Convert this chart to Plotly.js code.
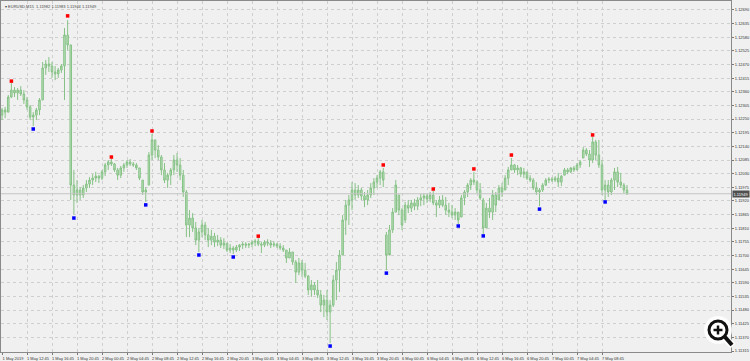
<!DOCTYPE html>
<html><head><meta charset="utf-8">
<script src="https://cdn.plot.ly/plotly-3.0.1.min.js"></script>
<style>html,body{margin:0;padding:0;background:#f0f0f0;}#chart{width:750px;height:361px;}</style>
</head><body><div id="chart"></div>
<script>
const symbolTitle = "EURUSD,M15  1.11982 1.11983 1.11944 1.11949";
const lastPrice = 1.11949;
const xLabels = ["1 May 2019","1 May 12:45","1 May 16:45","1 May 20:45","2 May 00:45","2 May 04:45","2 May 08:45","2 May 12:45","2 May 16:45","2 May 20:45","3 May 00:45","3 May 04:45","3 May 08:45","3 May 12:45","3 May 16:45","3 May 20:45","6 May 00:45","6 May 04:45","6 May 08:45","6 May 12:45","6 May 16:45","6 May 20:45","7 May 00:45","7 May 04:45","7 May 08:45"];
const barsPerLabel = 8;

const open = [
1.12266,1.12287,1.12278,1.12339,1.12367,1.12355,1.12367,1.12351,1.12327,1.12299,
1.12258,1.12266,1.12287,1.12327,1.12456,1.12472,1.12464,1.12440,1.12432,1.12448,
1.12464,1.12589,1.12549,1.11984,1.11944,1.11964,1.11944,1.11972,1.11988,1.12004,
1.12012,1.12020,1.12012,1.12037,1.12065,1.12077,1.12069,1.12045,1.12024,1.12053,
1.12065,1.12077,1.12069,1.12065,1.12053,1.12004,1.11956,1.11984,1.12105,1.12166,
1.12125,1.12097,1.12045,1.12004,1.12024,1.12045,1.12085,1.12065,1.12024,1.11956,
1.11823,1.11851,1.11811,1.11762,1.11795,1.11823,1.11783,1.11762,1.11778,1.11754,
1.11762,1.11742,1.11750,1.11722,1.11730,1.11722,1.11734,1.11742,1.11746,1.11742,
1.11746,1.11754,1.11758,1.11746,1.11742,1.11754,1.11750,1.11742,1.11746,1.11738,
1.11730,1.11722,1.11690,1.11714,1.11674,1.11633,1.11670,1.11641,1.11617,1.11561,
1.11581,1.11561,1.11541,1.11500,1.11520,1.11472,1.11500,1.11601,1.11641,1.11702,
1.11843,1.11903,1.11924,1.11964,1.11944,1.11964,1.11940,1.11924,1.11944,1.11972,
1.11996,1.12012,1.12037,1.11783,1.11702,1.11803,1.11875,1.11944,1.11883,1.11843,
1.11903,1.11891,1.11912,1.11899,1.11924,1.11932,1.11940,1.11928,1.11944,1.11912,
1.11903,1.11924,1.11903,1.11883,1.11875,1.11863,1.11875,1.11855,1.11932,1.11956,
1.11984,1.12004,1.11996,1.11964,1.11924,1.11811,1.11891,1.11875,1.11944,1.11924,
1.11972,1.11964,1.12012,1.12045,1.12065,1.12045,1.12053,1.12028,1.12037,1.12012,
1.12004,1.11972,1.11956,1.11964,1.11984,1.12004,1.12008,1.12004,1.12012,1.11996,
1.12024,1.12045,1.12037,1.12053,1.12045,1.12065,1.12093,1.12125,1.12109,1.12085,
1.12158,1.12105,1.12065,1.11964,1.11984,1.11956,1.12004,1.12037,1.11996,1.11984,
1.11964];
const high = [
1.12295,1.12299,1.12347,1.12395,1.12379,1.12375,1.12383,1.12367,1.12339,1.12307,
1.12278,1.12295,1.12335,1.12480,1.12488,1.12500,1.12480,1.12464,1.12456,1.12472,
1.12617,1.12649,1.12549,1.12045,1.12004,1.11976,1.11984,1.12004,1.12016,1.12028,
1.12037,1.12024,1.12045,1.12073,1.12085,1.12089,1.12073,1.12053,1.12061,1.12073,
1.12085,1.12089,1.12077,1.12073,1.12053,1.12004,1.11976,1.12117,1.12190,1.12166,
1.12145,1.12105,1.12073,1.12033,1.12053,1.12105,1.12113,1.12093,1.12045,1.11964,
1.11883,1.11871,1.11835,1.11811,1.11843,1.11835,1.11811,1.11803,1.11791,1.11783,
1.11774,1.11770,1.11750,1.11746,1.11738,1.11742,1.11746,1.11754,1.11754,1.11750,
1.11762,1.11766,1.11770,1.11754,1.11762,1.11766,1.11762,1.11758,1.11750,1.11750,
1.11742,1.11722,1.11730,1.11714,1.11682,1.11690,1.11682,1.11670,1.11621,1.11601,
1.11593,1.11601,1.11561,1.11541,1.11561,1.11520,1.11621,1.11674,1.11722,1.11863,
1.11924,1.11944,1.11996,1.11992,1.11984,1.11972,1.11956,1.11964,1.11992,1.12012,
1.12024,1.12045,1.12053,1.11795,1.11823,1.11891,1.12004,1.11944,1.11891,1.11916,
1.11924,1.11924,1.11928,1.11936,1.11948,1.11952,1.11948,1.11956,1.11960,1.11924,
1.11940,1.11944,1.11936,1.11912,1.11903,1.11891,1.11875,1.11944,1.11964,1.11992,
1.12012,1.12037,1.12004,1.11992,1.11932,1.11912,1.11932,1.11964,1.11956,1.11984,
1.11992,1.12024,1.12057,1.12093,1.12069,1.12065,1.12057,1.12053,1.12037,1.12024,
1.12012,1.11996,1.11972,1.11992,1.12012,1.12016,1.12016,1.12020,1.12033,1.12024,
1.12053,1.12053,1.12057,1.12061,1.12073,1.12085,1.12137,1.12133,1.12125,1.12178,
1.12166,1.12166,1.12085,1.12004,1.12004,1.12012,1.12053,1.12057,1.12033,1.11992,
1.11984];
const low = [
1.12246,1.12254,1.12278,1.12335,1.12339,1.12327,1.12343,1.12311,1.12287,1.12246,
1.12222,1.12246,1.12266,1.12327,1.12428,1.12440,1.12416,1.12407,1.12416,1.12436,
1.12327,1.12528,1.11924,1.11867,1.11912,1.11924,1.11932,1.11956,1.11972,1.11984,
1.11996,1.11992,1.12004,1.12020,1.12045,1.12061,1.12037,1.12004,1.12012,1.12037,
1.12053,1.12061,1.12057,1.12045,1.12004,1.11944,1.11916,1.11984,1.12085,1.12093,
1.12085,1.12024,1.11992,1.11972,1.11984,1.12024,1.12037,1.12004,1.11936,1.11774,
1.11774,1.11795,1.11742,1.11714,1.11774,1.11762,1.11734,1.11742,1.11734,1.11738,
1.11730,1.11726,1.11714,1.11710,1.11706,1.11714,1.11718,1.11726,1.11730,1.11730,
1.11734,1.11738,1.11738,1.11710,1.11734,1.11738,1.11730,1.11734,1.11730,1.11722,
1.11714,1.11670,1.11690,1.11662,1.11589,1.11621,1.11613,1.11609,1.11541,1.11533,
1.11541,1.11529,1.11472,1.11452,1.11440,1.11347,1.11492,1.11520,1.11553,1.11702,
1.11783,1.11823,1.11883,1.11924,1.11932,1.11924,1.11895,1.11903,1.11932,1.11944,
1.11972,1.11984,1.11976,1.11641,1.11710,1.11791,1.11875,1.11863,1.11803,1.11831,
1.11871,1.11875,1.11883,1.11883,1.11899,1.11903,1.11912,1.11916,1.11903,1.11855,
1.11891,1.11895,1.11863,1.11855,1.11851,1.11843,1.11827,1.11855,1.11903,1.11936,
1.11964,1.11984,1.11952,1.11924,1.11787,1.11811,1.11851,1.11843,1.11875,1.11924,
1.11936,1.11964,1.11984,1.12045,1.12033,1.12024,1.12016,1.12012,1.12004,1.11996,
1.11964,1.11944,1.11899,1.11956,1.11980,1.11992,1.11996,1.11996,1.11976,1.11980,
1.12024,1.12028,1.12033,1.12037,1.12045,1.12053,1.12093,1.12101,1.12057,1.12073,
1.12085,1.12053,1.11944,1.11924,1.11936,1.11944,1.11964,1.11976,1.11972,1.11952,
1.11944];
const close = [
1.12287,1.12278,1.12339,1.12367,1.12355,1.12367,1.12351,1.12327,1.12299,1.12258,
1.12266,1.12287,1.12327,1.12456,1.12472,1.12464,1.12440,1.12432,1.12448,1.12464,
1.12589,1.12549,1.11984,1.11944,1.11964,1.11944,1.11972,1.11988,1.12004,1.12012,
1.12020,1.12012,1.12037,1.12065,1.12077,1.12069,1.12045,1.12024,1.12053,1.12065,
1.12077,1.12069,1.12065,1.12053,1.12012,1.11956,1.11964,1.12105,1.12166,1.12125,
1.12097,1.12045,1.12004,1.12024,1.12045,1.12085,1.12065,1.12024,1.11956,1.11823,
1.11851,1.11811,1.11762,1.11795,1.11823,1.11783,1.11762,1.11778,1.11754,1.11762,
1.11742,1.11750,1.11722,1.11730,1.11722,1.11734,1.11742,1.11746,1.11742,1.11746,
1.11754,1.11758,1.11746,1.11742,1.11754,1.11750,1.11742,1.11746,1.11738,1.11730,
1.11722,1.11690,1.11714,1.11674,1.11633,1.11670,1.11641,1.11617,1.11561,1.11581,
1.11561,1.11541,1.11500,1.11520,1.11472,1.11500,1.11601,1.11641,1.11702,1.11843,
1.11903,1.11924,1.11964,1.11944,1.11964,1.11940,1.11924,1.11944,1.11972,1.11996,
1.12012,1.12037,1.12004,1.11702,1.11803,1.11875,1.11984,1.11883,1.11823,1.11903,
1.11891,1.11912,1.11899,1.11924,1.11932,1.11940,1.11928,1.11944,1.11912,1.11903,
1.11924,1.11903,1.11883,1.11875,1.11863,1.11875,1.11843,1.11932,1.11956,1.11984,
1.12004,1.11996,1.11964,1.11932,1.11811,1.11891,1.11875,1.11944,1.11903,1.11972,
1.11956,1.12012,1.12045,1.12065,1.12045,1.12053,1.12028,1.12037,1.12012,1.12004,
1.11972,1.11956,1.11964,1.11984,1.12004,1.12008,1.12004,1.12012,1.11996,1.12020,
1.12045,1.12037,1.12053,1.12045,1.12065,1.12077,1.12125,1.12109,1.12085,1.12158,
1.12105,1.12065,1.11964,1.11984,1.11956,1.12004,1.12037,1.11996,1.11984,1.11964,
1.11949];

const fractalUpBar = [3,21,35,48,82,122,138,151,163,189];
const fractalUpPrice = [1.12403,1.12666,1.12097,1.12202,1.11778,1.12065,1.11968,1.12049,1.12105,1.12186];
const fractalDnBar = [10,23,46,63,74,105,123,146,154,172,193];
const fractalDnPrice = [1.12210,1.11851,1.11904,1.11702,1.11694,1.11335,1.11629,1.11819,1.11779,1.11887,1.11916];

const barX = open.map((_, i) => i);
const tickPos = xLabels.map((_, i) => i * barsPerLabel);

const W = 750, H = 361;
const M = {l: 1, r: 19, t: 1, b: 9};
const pw = W - M.l - M.r, ph = H - M.t - M.b;
const px = x => (x - M.l) / pw;
const py = y => (H - M.b - y) / ph;

const font = 'Liberation Sans, Arial, sans-serif';
const green = {line: {color: '#86c286', width: 1}, fillcolor: '#bde0bd'};

const traces = [
  {type: 'candlestick', x: barX, open: open, high: high, low: low, close: close,
   increasing: green, decreasing: green, whiskerwidth: 0, hoverinfo: 'skip'},
  {type: 'scatter', mode: 'markers', x: fractalUpBar, y: fractalUpPrice,
   marker: {symbol: 'square', size: 3.5, color: '#ff0000'}, hoverinfo: 'skip'},
  {type: 'scatter', mode: 'markers', x: fractalDnBar, y: fractalDnPrice,
   marker: {symbol: 'square', size: 3.5, color: '#0000ff'}, hoverinfo: 'skip'}
];

const shapes = [
  {type: 'line', xref: 'paper', x0: 0, x1: 1, yref: 'y', y0: lastPrice, y1: lastPrice,
   line: {color: '#c4c4c4', width: 1}},
  {type: 'circle', xref: 'paper', yref: 'paper', x0: px(704), x1: px(732), y0: py(344), y1: py(316),
   fillcolor: 'rgba(255,255,255,0.85)', line: {width: 0}},
  {type: 'line', xref: 'paper', yref: 'paper', x0: px(724), y0: py(337), x1: px(733), y1: py(346),
   line: {color: 'rgba(255,255,255,0.9)', width: 7}},
  {type: 'circle', xref: 'paper', yref: 'paper', x0: px(709), x1: px(727), y0: py(339), y1: py(321),
   fillcolor: 'rgba(255,255,255,0.9)', line: {color: '#111', width: 3}},
  {type: 'line', xref: 'paper', yref: 'paper', x0: px(725), y0: py(337), x1: px(732), y1: py(345),
   line: {color: '#111', width: 4}},
  {type: 'line', xref: 'paper', yref: 'paper', x0: px(713.5), y0: py(330), x1: px(722.5), y1: py(330),
   line: {color: '#111', width: 2.5}},
  {type: 'line', xref: 'paper', yref: 'paper', x0: px(718), y0: py(325.5), x1: px(718), y1: py(334.5),
   line: {color: '#111', width: 2.5}}
];

const layout = {
  width: W, height: H,
  margin: M,
  paper_bgcolor: '#f0f0f0', plot_bgcolor: '#f0f0f0',
  showlegend: false, hovermode: false, dragmode: false,
  font: {family: font, size: 4, color: '#333'},
  xaxis: {
    type: 'linear', range: [-0.32, 233.28], rangeslider: {visible: false},
    tickmode: 'array', tickvals: tickPos, ticktext: xLabels,
    ticks: 'outside', ticklen: 2, tickcolor: '#777',
    ticklabelshift: 11, tickangle: 0,
    showgrid: true, gridcolor: '#cfcfcf', griddash: 'dot', gridwidth: 1,
    showline: true, linecolor: '#8a8a8a', linewidth: 1, mirror: true,
    zeroline: false, fixedrange: true,
    tickfont: {family: font, size: 4, color: '#333'}
  },
  yaxis: {
    side: 'right', range: [1.11311, 1.12726],
    tickmode: 'linear', tick0: 1.11315, dtick: 0.00055, tickformat: '.5f',
    ticks: 'outside', ticklen: 2, tickcolor: '#777',
    showgrid: true, gridcolor: '#cfcfcf', griddash: 'dot', gridwidth: 1,
    showline: true, linecolor: '#8a8a8a', linewidth: 1, mirror: true,
    zeroline: false, fixedrange: true,
    tickfont: {family: font, size: 4, color: '#333'}
  },
  annotations: [
    {xref: 'paper', yref: 'paper', x: px(3), y: py(2), xanchor: 'left', yanchor: 'top',
     text: '▾ ' + symbolTitle, showarrow: false, font: {family: font, size: 4, color: '#444'}},
    {xref: 'paper', yref: 'y', x: 1, y: lastPrice, xanchor: 'left', yanchor: 'middle', xshift: 1,
     text: lastPrice.toFixed(5), showarrow: false, bgcolor: '#505050', borderpad: 0.5,
     font: {family: font, size: 4, color: '#ffffff'}}
  ],
  shapes: shapes
};

Plotly.newPlot('chart', traces, layout, {staticPlot: true, displayModeBar: false});
</script>
</body></html>
